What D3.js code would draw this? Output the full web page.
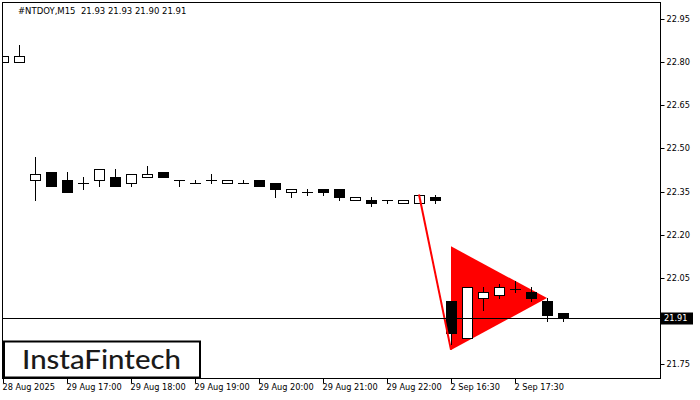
<!DOCTYPE html>
<html>
<head>
<meta charset="utf-8">
<script src="https://cdn.jsdelivr.net/npm/d3@7"></script>
<style>
  html, body { margin: 0; padding: 0; background: #fff; }
  svg { display: block; }
</style>
</head>
<body>
<svg id="chart" width="700" height="400"></svg>
<script>
// ---------------- data ----------------
const times = [
  "28 Aug 22:30", "28 Aug 22:45",
  "29 Aug 16:30", "29 Aug 16:45", "29 Aug 17:00", "29 Aug 17:15", "29 Aug 17:30", "29 Aug 17:45",
  "29 Aug 18:00", "29 Aug 18:15", "29 Aug 18:30", "29 Aug 18:45", "29 Aug 19:00", "29 Aug 19:15",
  "29 Aug 19:30", "29 Aug 19:45", "29 Aug 20:00", "29 Aug 20:15", "29 Aug 20:30", "29 Aug 20:45",
  "29 Aug 21:00", "29 Aug 21:15", "29 Aug 21:30", "29 Aug 21:45", "29 Aug 22:00", "29 Aug 22:15",
  "29 Aug 22:30", "29 Aug 22:45",
  "2 Sep 16:30", "2 Sep 16:45", "2 Sep 17:00", "2 Sep 17:15", "2 Sep 17:30", "2 Sep 17:45",
  "2 Sep 18:00", "2 Sep 18:15"
];
const open  = [22.80, 22.80, 22.39, 22.42, 22.39, 22.38, 22.39, 22.40, 22.38, 22.40, 22.42, 22.39, 22.38, 22.39,
               22.38, 22.38, 22.39, 22.38, 22.35, 22.35, 22.36, 22.36, 22.32, 22.32, 22.32, 22.31, 22.31, 22.33,
               21.97, 21.84, 21.98, 21.99, 22.01, 22.00, 21.97, 21.93];
const high  = [22.82, 22.86, 22.47, 22.42, 22.42, 22.40, 22.43, 22.43, 22.41, 22.44, 22.42, 22.39, 22.39, 22.41,
               22.39, 22.39, 22.39, 22.38, 22.36, 22.36, 22.36, 22.36, 22.33, 22.33, 22.32, 22.32, 22.34, 22.34,
               21.97, 22.02, 22.02, 22.03, 22.04, 22.02, 21.98, 21.93];
const low   = [22.80, 22.80, 22.32, 22.37, 22.35, 22.36, 22.37, 22.37, 22.37, 22.40, 22.40, 22.37, 22.38, 22.38,
               22.38, 22.38, 22.37, 22.33, 22.33, 22.34, 22.34, 22.32, 22.32, 22.30, 22.31, 22.31, 22.31, 22.31,
               21.82, 21.84, 21.94, 21.98, 22.00, 21.97, 21.90, 21.90];
const close = [22.82, 22.82, 22.41, 22.37, 22.35, 22.38, 22.43, 22.37, 22.41, 22.41, 22.40, 22.39, 22.38, 22.39,
               22.39, 22.38, 22.37, 22.36, 22.36, 22.35, 22.35, 22.33, 22.33, 22.31, 22.32, 22.32, 22.34, 22.32,
               21.86, 22.02, 22.00, 22.02, 22.01, 21.98, 21.92, 21.91];

const xTickIdx    = [0, 4, 8, 12, 16, 20, 24, 28, 32];
const xTickLabels = ["28 Aug 2025", "29 Aug 17:00", "29 Aug 18:00", "29 Aug 19:00", "29 Aug 20:00",
                     "29 Aug 21:00", "29 Aug 22:00", "2 Sep 16:30", "2 Sep 17:30"];
const yTicks = [21.75, 21.90, 22.05, 22.20, 22.35, 22.50, 22.65, 22.80, 22.95];
const yTickLabels = ["21.75", "", "22.05", "22.20", "22.35", "22.50", "22.65", "22.80", "22.95"]; // 21.90 is covered by the price tag

const lastPrice = 21.91;
const headerText = "#NTDOY,M15  21.93 21.93 21.90 21.91";

// bearish pennant pattern
const poleIdx = [26, 28];
const poleVal = [22.34, 21.80];
const triIdx  = [28, 28, 34];
const triVal  = [22.16, 21.80, 21.98];

// ---------------- drawing ----------------
const svg = d3.select("#chart");
const L = 3, T = 3, R = 660, B = 378;

const x = d3.scaleLinear().domain([0, 35]).range([3, 563]);
const y = d3.scaleLinear().domain([21.75, 22.95]).range([364.3, 19]);
const py = v => Math.round(y(v));

svg.append("rect").attr("width", 700).attr("height", 400).attr("fill", "#fff");

svg.append("defs").append("clipPath").attr("id", "plotclip")
  .append("rect").attr("x", L).attr("y", T).attr("width", R - L).attr("height", B - T);

const plot = svg.append("g").attr("clip-path", "url(#plotclip)");

// triangle (background)
plot.append("path")
  .attr("d", d3.line().x(d => x(d[0])).y(d => y(d[1]))(triIdx.map((d, i) => [d, triVal[i]])) + "Z")
  .attr("fill", "#ff0000")
  .attr("stroke", "none");

// candles
const candles = d3.range(times.length).map(i => ({
  i, t: times[i], o: open[i], h: high[i], l: low[i], c: close[i]
}));

const cg = plot.append("g").selectAll("g").data(candles).join("g");

cg.append("line")
  .attr("x1", d => Math.round(x(d.i)) + 0.5)
  .attr("x2", d => Math.round(x(d.i)) + 0.5)
  .attr("y1", d => py(d.h))
  .attr("y2", d => py(d.l) + 1)
  .attr("stroke", "#000").attr("stroke-width", 1);

cg.each(function(d) {
  const g = d3.select(this);
  const cx = Math.round(x(d.i));
  const top = py(Math.max(d.o, d.c));
  const bot = py(Math.min(d.o, d.c));
  if (bot - top < 1) {
    g.append("line")
      .attr("x1", cx - 5).attr("x2", cx + 6)
      .attr("y1", top + 0.5).attr("y2", top + 0.5)
      .attr("stroke", "#000").attr("stroke-width", 1);
  } else {
    g.append("rect")
      .attr("x", cx - 4.5).attr("y", top + 0.5)
      .attr("width", 10).attr("height", bot - top)
      .attr("fill", d.c >= d.o ? "#fff" : "#000")
      .attr("stroke", "#000").attr("stroke-width", 1);
  }
});

// pole line
plot.append("path")
  .attr("d", d3.line().x(d => x(d[0])).y(d => y(d[1]))(poleIdx.map((d, i) => [d, poleVal[i]])))
  .attr("fill", "none")
  .attr("stroke", "#ff0000")
  .attr("stroke-width", 2);

// last price line
plot.append("line")
  .attr("x1", L).attr("x2", R)
  .attr("y1", py(lastPrice) + 0.5).attr("y2", py(lastPrice) + 0.5)
  .attr("stroke", "#000").attr("stroke-width", 1);

// frame
svg.append("rect")
  .attr("x", 2.5).attr("y", 2.5).attr("width", 658).attr("height", 376)
  .attr("fill", "none").attr("stroke", "#000").attr("stroke-width", 1);

const FONT = "'DejaVu Sans', Verdana, sans-serif";

// y axis
const yAxis = svg.append("g").attr("transform", "translate(660.5,0)")
  .call(d3.axisRight(y).tickValues(yTicks).tickSize(4).tickPadding(2)
    .tickFormat((d, i) => yTickLabels[i]));
yAxis.select(".domain").remove();
yAxis.selectAll(".tick").attr("transform", d => `translate(0,${py(d) + 0.5})`);
yAxis.selectAll(".tick line").attr("stroke", "#000");
yAxis.selectAll(".tick text").attr("fill", "#000")
  .style("font-family", FONT).style("font-size", "8.2px");

// x axis
const xAxis = svg.append("g").attr("transform", "translate(0,378.5)")
  .call(d3.axisBottom(x).tickValues(xTickIdx).tickSize(5).tickFormat((d, i) => xTickLabels[i]));
xAxis.select(".domain").remove();
xAxis.selectAll(".tick").attr("transform", d => `translate(${Math.round(x(d)) + 0.5},0)`);
xAxis.selectAll(".tick line").attr("stroke", "#000");
xAxis.selectAll(".tick text").attr("fill", "#000")
  .attr("text-anchor", "start").attr("x", -1).attr("y", 6).attr("dy", "0.71em")
  .style("font-family", FONT).style("font-size", "8.2px");

// last price label
const lpY = py(lastPrice) + 0.5;
svg.append("rect")
  .attr("x", 661).attr("y", lpY - 6).attr("width", 32).attr("height", 12)
  .attr("fill", "#000");
svg.append("text")
  .attr("x", 664).attr("y", lpY).attr("dy", "0.35em")
  .attr("fill", "#fff")
  .style("font-family", FONT).style("font-size", "8.2px")
  .text(d3.format(".2f")(lastPrice));

// header
svg.append("text")
  .attr("x", 18).attr("y", 14)
  .attr("fill", "#000")
  .attr("xml:space", "preserve")
  .style("white-space", "pre")
  .style("font-family", FONT).style("font-size", "8.5px")
  .text(headerText);

// logo
svg.append("rect")
  .attr("x", 4).attr("y", 341.5).attr("width", 196).attr("height", 36)
  .attr("fill", "#fff").attr("stroke", "#000").attr("stroke-width", 2);
svg.append("text")
  .attr("x", 22).attr("y", 368.5)
  .attr("fill", "#1a1a1a")
  .attr("textLength", 159).attr("lengthAdjust", "spacingAndGlyphs")
  .style("font-family", "Lato, 'Open Sans', sans-serif").style("font-weight", "500")
  .style("font-size", "26.5px")
  .text("InstaFintech");
</script>
</body>
</html>
